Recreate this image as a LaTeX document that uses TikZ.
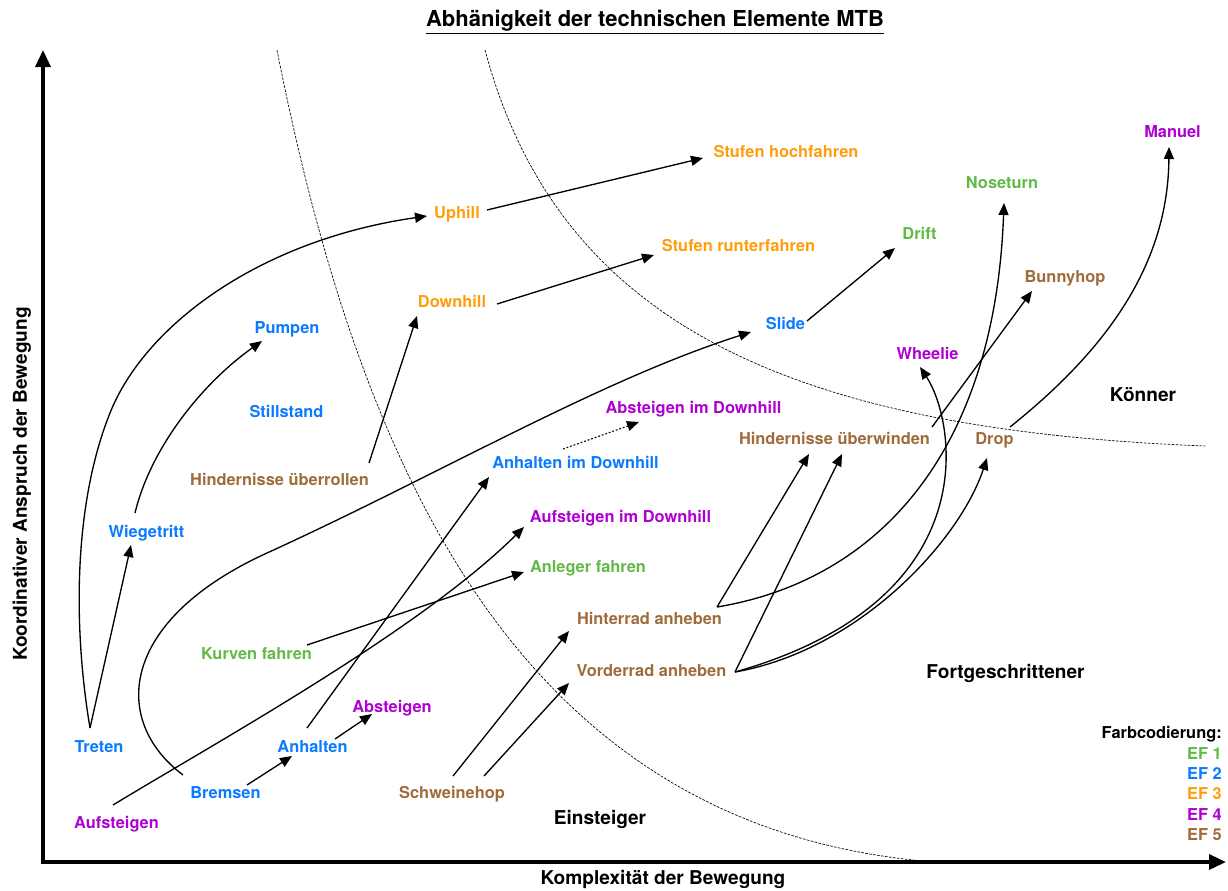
\documentclass[tikz,border=0pt]{standalone}
\usepackage{fontspec}
\setmainfont{TeX Gyre Heros}
\usetikzlibrary{arrows.meta,calc}
\definecolor{cblue}{RGB}{10,122,255}
\definecolor{corange}{RGB}{255,158,10}
\definecolor{cgreen}{RGB}{98,186,70}
\definecolor{cpurple}{RGB}{175,0,210}
\definecolor{cbrown}{RGB}{158,108,58}
\begin{document}
\begin{tikzpicture}[x=0.75pt,y=-0.75pt,
  lbl/.style={font=\bfseries\fontsize{12.3}{14}\selectfont, inner sep=0pt, text height=8.9pt, text depth=0pt},
  big/.style={font=\bfseries\fontsize{14.3}{16}\selectfont, inner sep=0pt, text height=10.3pt, text depth=0pt},
  ttl/.style={font=\bfseries\fontsize{16.5}{18}\selectfont, inner sep=0pt},
  con/.style={line width=1pt, -{Triangle[length=9pt,width=7.5pt]}},
  dotcon/.style={line width=0.8pt, dash pattern=on 1.4pt off 1.4pt, -{Triangle[length=9pt,width=7.5pt]}},
  axisline/.style={line width=2.6pt, {Triangle[length=12.75pt,width=11.25pt]}-{Triangle[length=12.75pt,width=11.25pt]}},
  zone/.style={line width=0.5pt, dash pattern=on 2pt off 1pt},
]
\useasboundingbox (0,0) rectangle (1228,890);

% axes
\coordinate (ytip) at (43,50);
\coordinate (origin) at (43,862);
\coordinate (xtip) at (1226,862);
\draw[axisline] (ytip) -- (origin) -- (xtip);

% zone boundaries
\coordinate (za1) at (277,50);
\coordinate (za2) at (935,862);
\coordinate (zb1) at (485,50);
\coordinate (zb2) at (1205,446);
\draw[zone] (za1) .. controls (360,470) and (520,830) .. (za2);
\draw[zone] (zb1) .. controls (560,330) and (800,430) .. (zb2);

% title and axis labels
\node[ttl] (title) at (655,22) {\underline{Abhänigkeit der technischen Elemente MTB}};
\node[big] (xlabel) at (663,878) {Komplexität der Bewegung};
\node[big, rotate=90] (ylabel) at (20,484) {Koordinativer Anspruch der Bewegung};

% zone labels
\node[big] (einsteiger) at (600,818) {Einsteiger};
\node[big] (fortg) at (1005.5,672) {Fortgeschrittener};
\node[big] (koenner) at (1143,395) {Könner};

% elements
\node[lbl, text=cblue] (treten) at (99,747) {Treten};
\node[lbl, text=cblue] (wiege) at (146.5,532) {Wiegetritt};
\node[lbl, text=cgreen] (kurven) at (256.5,654) {Kurven fahren};
\node[lbl, text=cblue] (anhalten) at (312.5,747) {Anhalten};
\node[lbl, text=cblue] (bremsen) at (225.5,793) {Bremsen};
\node[lbl, text=cpurple] (aufst) at (116.5,823) {Aufsteigen};
\node[lbl, text=cpurple] (abst) at (392,707) {Absteigen};
\node[lbl, text=cbrown] (schweine) at (452,793) {Schweinehop};
\node[lbl, text=cbrown] (hinter) at (649.5,619) {Hinterrad anheben};
\node[lbl, text=cbrown] (vorder) at (651.5,671) {Vorderrad anheben};
\node[lbl, text=cgreen] (anleger) at (588,567) {Anleger fahren};
\node[lbl, text=cpurple] (aufstdh) at (620.5,517) {Aufsteigen im Downhill};
\node[lbl, text=cblue] (anhaltdh) at (575.5,463) {Anhalten im Downhill};
\node[lbl, text=cpurple] (abstdh) at (693.5,408) {Absteigen im Downhill};
\node[lbl, text=cbrown] (ueberroll) at (279.5,480) {Hindernisse überrollen};
\node[lbl, text=cblue] (still) at (286.5,412) {Stillstand};
\node[lbl, text=cblue] (pumpen) at (287,328) {Pumpen};
\node[lbl, text=corange] (downhill) at (452,302) {Downhill};
\node[lbl, text=corange] (uphill) at (457,213) {Uphill};
\node[lbl, text=corange] (stufrunt) at (738.5,246) {Stufen runterfahren};
\node[lbl, text=corange] (stufhoch) at (786,152) {Stufen hochfahren};
\node[lbl, text=cblue] (slide) at (785.5,324) {Slide};
\node[lbl, text=cgreen] (drift) at (919.5,234) {Drift};
\node[lbl, text=cgreen] (nose) at (1002,183) {Noseturn};
\node[lbl, text=cpurple] (manuel) at (1172.5,132) {Manuel};
\node[lbl, text=cbrown] (bunny) at (1065,277) {Bunnyhop};
\node[lbl, text=cpurple] (wheelie) at (927.5,354) {Wheelie};
\node[lbl, text=cbrown] (ueberw) at (834.5,439) {Hindernisse überwinden};
\node[lbl, text=cbrown] (drop) at (994.5,439) {Drop};

% legend
\node[lbl, anchor=east] (leg) at (1222,733) {Farbcodierung:};
\node[lbl, anchor=east, text=cgreen] (ef1) at (1222,754) {EF 1};
\node[lbl, anchor=east, text=cblue] (ef2) at (1222,774) {EF 2};
\node[lbl, anchor=east, text=corange] (ef3) at (1222,794) {EF 3};
\node[lbl, anchor=east, text=cpurple] (ef4) at (1222,815) {EF 4};
\node[lbl, anchor=east, text=cbrown] (ef5) at (1222,835) {EF 5};

% connectors
\draw[con] ([shift={(-9,-19)}]treten.center) .. controls (72,620) and (75,500) .. (110,413)
  .. controls (145,325) and (260,240) .. ([shift={(-30,3)}]uphill.center);
\draw[con] ([shift={(-9,-19)}]treten.center) -- ([shift={(-15.5,13)}]wiege.center);
\draw[con] ([shift={(-11.5,-19)}]wiege.center) .. controls (150,450) and (200,385) .. ([shift={(-25,13)}]pumpen.center);
\draw[con] ([shift={(89.5,-17)}]ueberroll.center) -- ([shift={(-35,14)}]downhill.center);
\draw[con] ([shift={(30,-3)}]uphill.center) -- ([shift={(-83,6)}]stufhoch.center);
\draw[con] ([shift={(45,2)}]downhill.center) -- ([shift={(-84.5,9)}]stufrunt.center);
\draw[con] ([shift={(21.5,-3)}]slide.center) -- ([shift={(-24.5,14)}]drift.center);
\draw[con] ([shift={(-42.5,-18)}]bremsen.center) .. controls (110,720) and (120,620) .. (267,553)
  .. controls (440,474) and (600,380) .. ([shift={(-34.5,8)}]slide.center);
\draw[con] ([shift={(21.5,-8)}]bremsen.center) -- ([shift={(-20.5,9)}]anhalten.center);
\draw[con] ([shift={(22.5,-8)}]anhalten.center) -- ([shift={(-20,7)}]abst.center);
\draw[con] ([shift={(-5.5,-19)}]anhalten.center) -- ([shift={(-86.5,14)}]anhaltdh.center);
\draw[con] ([shift={(-3.5,-18)}]aufst.center) .. controls (220,740) and (420,630) .. ([shift={(-96.5,10)}]aufstdh.center);
\draw[con] ([shift={(50.5,-9)}]kurven.center) -- ([shift={(-64,5)}]anleger.center);
\draw[dotcon] ([shift={(-12.5,-14)}]anhaltdh.center) -- ([shift={(-54.5,14)}]abstdh.center);
\draw[con] ([shift={(1,-17)}]schweine.center) -- ([shift={(-80.5,12)}]hinter.center);
\draw[con] ([shift={(32,-17)}]schweine.center) -- ([shift={(-82.5,12)}]vorder.center);
\draw[con] ([shift={(67.5,-12)}]hinter.center) -- ([shift={(-25.5,15)}]ueberw.center);
\draw[con] ([shift={(67.5,-12)}]hinter.center) .. controls (880,580) and (995,450) .. ([shift={(2,20)}]nose.center);
\draw[con] ([shift={(83.5,1)}]vorder.center) -- ([shift={(7.5,15)}]ueberw.center);
\draw[con] ([shift={(83.5,1)}]vorder.center) .. controls (990,600) and (955,420) .. ([shift={(-7.5,13)}]wheelie.center);
\draw[con] ([shift={(83.5,1)}]vorder.center) .. controls (860,650) and (960,540) .. ([shift={(-7.5,19)}]drop.center);
\draw[con] ([shift={(97.5,-12)}]ueberw.center) -- ([shift={(-33,14)}]bunny.center);
\draw[con] ([shift={(15.5,-12)}]drop.center) .. controls (1100,355) and (1168,270) .. ([shift={(-3.5,15)}]manuel.center);
\end{tikzpicture}
\end{document}
